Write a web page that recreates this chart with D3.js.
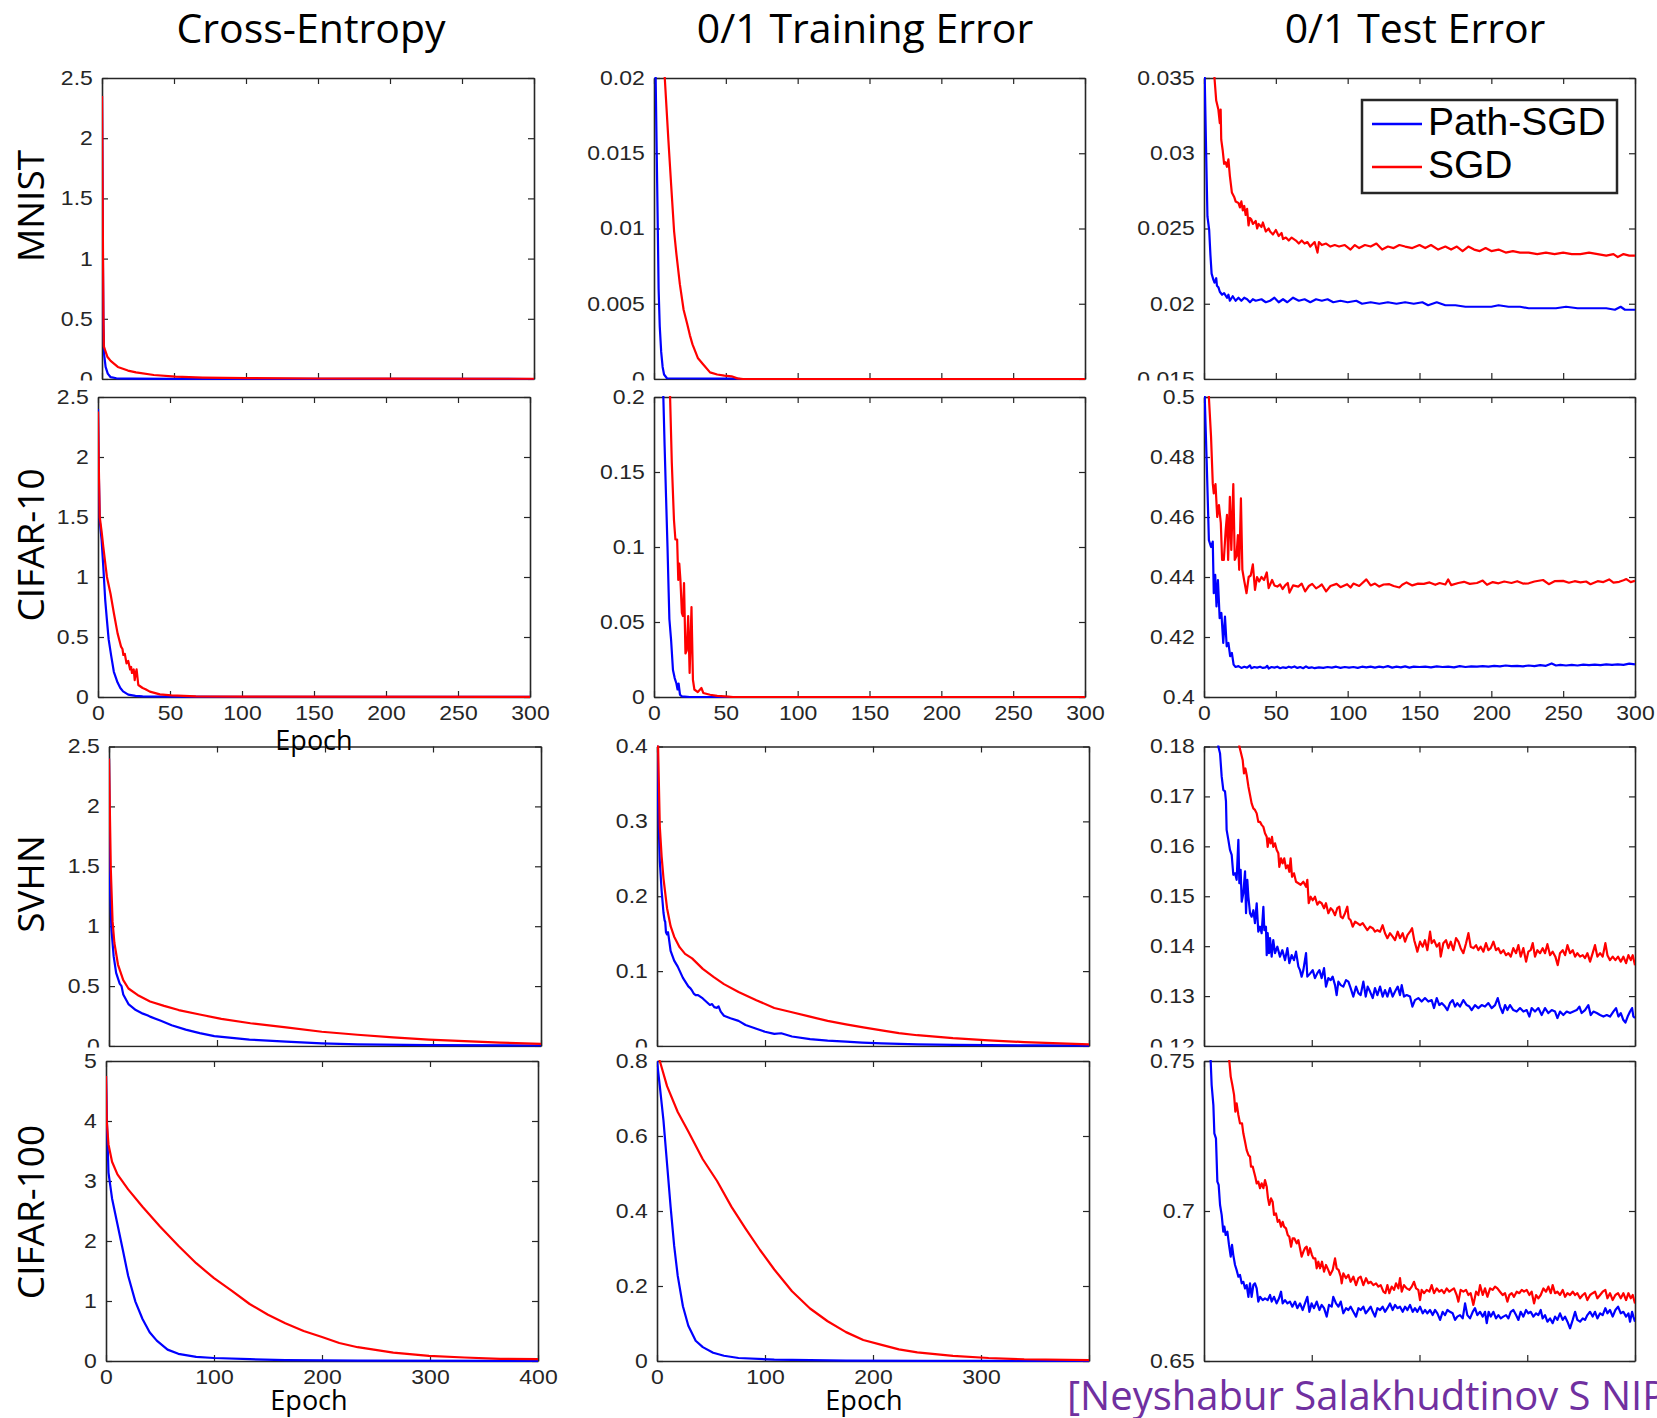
<!DOCTYPE html>
<html>
<head>
<meta charset="utf-8">
<script src="https://cdn.jsdelivr.net/npm/d3@7"></script>
<style>
body { margin: 0; background: #fff; }
svg { display: block; }
</style>
</head>
<body>
<svg id="chart" width="1657" height="1418"></svg>
<script>
// labels
const colTitles = ["Cross-Entropy", "0/1 Training Error", "0/1 Test Error"];
const rowNames = ["MNIST", "CIFAR-10", "SVHN", "CIFAR-100"];
const seriesNames = ["Path-SGD", "SGD"];
const citation = "[Neyshabur Salakhudtinov S NIPS'15]";

// tick values
const ticks300 = [0, 50, 100, 150, 200, 250, 300];
const ticks400 = [0, 100, 200, 300, 400];
const ceTicks = [0, 0.5, 1, 1.5, 2, 2.5];
const ce100Ticks = [0, 1, 2, 3, 4, 5];
const mnistTrainTicks = [0, 0.005, 0.01, 0.015, 0.02];
const mnistTestTicks = [0.015, 0.02, 0.025, 0.03, 0.035];
const cifar10TrainTicks = [0, 0.05, 0.1, 0.15, 0.2];
const cifar10TestTicks = [0.4, 0.42, 0.44, 0.46, 0.48, 0.5];
const svhnTrainTicks = [0, 0.1, 0.2, 0.3, 0.4];
const svhnTestTicks = [0.12, 0.13, 0.14, 0.15, 0.16, 0.17, 0.18];
const cifar100TrainTicks = [0, 0.2, 0.4, 0.6, 0.8];
const cifar100TestTicks = [0.65, 0.7, 0.75];

// [epoch, value]
const mnistCePath = [[0,2.35],[0.5,1.2],[1,0.45],[1.5,0.2],[2.5,0.1],[4,0.045],[6,0.015],[10,0.006],[20,0.003],[50,0.001],[100,0.0005],[300,0.0002]];
const mnistCeSgd = [[0,2.35],[0.5,1.4],[1,0.5],[1.3,0.27],[3.7,0.185],[6,0.15],[11,0.1],[18,0.07],[23.6,0.055],[36,0.033],[51,0.019],[70,0.012],[100,0.007],[150,0.004],[200,0.003],[300,0.002]];

const mnistTrainPath = [[0,0.1],[1,0.021],[2.2,0.013],[2.7,0.0096],[3.2,0.006],[4,0.0035],[5,0.0018],[6,0.0008],[7,0.0003],[9,0.00005],[58,0.00002],[60,0],[300,0]];
const mnistTrainSgd = [[0,0.1],[5,0.04],[7.5,0.02],[10,0.0159],[12,0.0128],[14,0.0098],[15.6,0.0083],[18,0.0063],[20.6,0.0046],[23,0.0037],[25,0.0029],[26.8,0.0023],[30.5,0.0014],[34,0.001],[39,0.00044],[44,0.0003],[49,0.00022],[54,0.00018],[58,0.00004],[62,0],[300,0]];

const mnistTestPath = [[0,0.05],[0.5,0.035],[1.5,0.03],[2.4,0.0258],[3.6,0.0249],[4.5,0.0232],[5.3,0.022],[6.5,0.0216],[7.3,0.0214],[8.5,0.0217],[9,0.0212],[10,0.0211],[11,0.0208],[12.6,0.0206],[14,0.0207],[16,0.0204],[17,0.0206],[18,0.0202],[20,0.0205],[22,0.0202],[24,0.0204],[26,0.0202],[28,0.0204],[30,0.0203],[32,0.0201],[34,0.0203],[36,0.0202],[40,0.0203],[43,0.0201],[46,0.0202],[49,0.0204],[52,0.0201],[55,0.0203],[58,0.0201],[62,0.0204],[66,0.0202],[70,0.0203],[74,0.0201],[78,0.0203],[82,0.0202],[86,0.0203],[90,0.0201],[95,0.0202],[100,0.0201],[106,0.0202],[110,0.02],[116,0.0201],[122,0.02],[128,0.0201],[134,0.02],[140,0.0201],[146,0.02],[152,0.0201],[156,0.0199],[162,0.0201],[168,0.0199],[175,0.0199],[182,0.0198],[190,0.0198],[200,0.0198],[205,0.0199],[212,0.0198],[220,0.0198],[226,0.0197],[236,0.0197],[245,0.0197],[252,0.0198],[260,0.0197],[270,0.0197],[280,0.0197],[286,0.0196],[290,0.0198],[293,0.0196],[300,0.0196]];
const mnistTestSgd = [[5,0.05],[7.3,0.035],[8.5,0.0335],[10,0.0329],[11,0.032],[11.6,0.0329],[12,0.0309],[13,0.0302],[14,0.0293],[15,0.0294],[16,0.0291],[17,0.0296],[18,0.0285],[19.4,0.0274],[21,0.0271],[22,0.0268],[24,0.0267],[25,0.0264],[26,0.0268],[27,0.0262],[28,0.0265],[29,0.0259],[30,0.0263],[31,0.0252],[32,0.0257],[33,0.0256],[34,0.0253],[36,0.0255],[37,0.025],[38,0.0253],[40,0.0251],[41,0.0254],[43,0.0248],[45,0.025],[46,0.0248],[48,0.0246],[50,0.0249],[52,0.0245],[54,0.0247],[55,0.0243],[57,0.0244],[59,0.0242],[61,0.0244],[64,0.0242],[66,0.024],[68,0.0242],[70,0.024],[72,0.0241],[74,0.0238],[77,0.0241],[79,0.0234],[80,0.0241],[82,0.0239],[85,0.024],[88,0.0238],[91,0.0239],[94,0.0238],[98,0.0239],[102,0.0236],[105,0.0239],[108,0.0237],[112,0.0239],[116,0.0238],[120,0.024],[124,0.0236],[128,0.0238],[132,0.0237],[136,0.0239],[140,0.0238],[145,0.0237],[150,0.0239],[154,0.0237],[158,0.0239],[163,0.0236],[168,0.0238],[172,0.0236],[176,0.0238],[180,0.0235],[184,0.0238],[188,0.0236],[192,0.0235],[196,0.0237],[200,0.0235],[205,0.0236],[210,0.0234],[215,0.0235],[220,0.0234],[226,0.0234],[232,0.0233],[238,0.0234],[244,0.0233],[250,0.0234],[256,0.0233],[262,0.0233],[268,0.0234],[274,0.0233],[280,0.0232],[285,0.0233],[288,0.0231],[292,0.0233],[296,0.0232],[300,0.0232]];

const cifar10CePath = [[0,2.4],[0.5,1.9],[1.2,1.47],[2.5,1.31],[3.7,1.08],[5,0.81],[6.2,0.64],[7.4,0.48],[9.2,0.34],[11,0.21],[13.6,0.12],[15.5,0.075],[17.4,0.047],[21,0.02],[26,0.01],[31,0.006],[50,0.003],[100,0.001],[300,0.0005]];
const cifar10CeSgd = [[0,2.38],[0.6,1.9],[1.2,1.5],[2.5,1.38],[3.7,1.25],[6.2,1],[8.7,0.86],[11,0.7],[13.6,0.53],[16,0.42],[17,0.4],[17.6,0.35],[18.6,0.36],[19.8,0.28],[21,0.3],[22.3,0.23],[23,0.25],[23.6,0.2],[24.8,0.23],[25.5,0.14],[26.2,0.2],[26.8,0.23],[28,0.1],[31,0.075],[33,0.065],[36,0.045],[43,0.022],[51,0.014],[68,0.006],[100,0.003],[300,0.001]];

const cifar10TrainPath = [[0,0.5],[5,0.25],[6.5,0.2],[7.4,0.167],[8.4,0.133],[9.4,0.1],[10.2,0.07],[10.7,0.052],[11.9,0.038],[13.2,0.018],[14.4,0.0126],[15.6,0.009],[16.4,0.005],[17.1,0.009],[18.1,0.0015],[19.4,0.0004],[25,0],[300,0]];
const cifar10TrainSgd = [[5,0.5],[10,0.25],[11.2,0.2],[12.4,0.156],[13.9,0.118],[14.9,0.105],[16.1,0.105],[16.9,0.078],[17.6,0.089],[18.4,0.078],[19.4,0.056],[20.1,0.054],[20.9,0.076],[21.9,0.029],[22.8,0.031],[23.8,0.054],[24.8,0.016],[26.1,0.06],[27.1,0.0115],[28.1,0.005],[30.5,0.0033],[33,0.006],[34.3,0.0027],[39,0.0015],[44,0.0008],[51.7,0.0002],[55,0],[300,0]];

const cifar10TestPath = [[0,0.53],[0.5,0.5],[1.9,0.478],[3.4,0.4523],[4.9,0.45],[6.1,0.4518],[6.8,0.4346],[7.8,0.4407],[8.7,0.4302],[9.7,0.439],[10.9,0.4263],[12.1,0.428],[13.4,0.418],[14.6,0.4268],[15.8,0.4169],[17,0.418],[18.2,0.4136],[19.4,0.4147],[20.6,0.4108],[22,0.41],[24,0.4103],[26,0.4097],[28,0.4101],[30,0.4098],[32,0.4105],[33,0.4096],[35,0.41],[37,0.4098],[39,0.4101],[41,0.4097],[43,0.4099],[44,0.4104],[45,0.4095],[47,0.41],[49,0.4098],[51,0.4101],[53,0.4096],[55,0.4099],[57,0.4097],[59,0.4101],[61,0.4098],[63,0.4102],[65,0.4097],[67,0.41],[69,0.4096],[71,0.4102],[73,0.4097],[75,0.4099],[77,0.4096],[80,0.4099],[83,0.4097],[86,0.41],[89,0.4098],[92,0.4101],[95,0.4097],[98,0.41],[101,0.4098],[104,0.41],[107,0.4097],[110,0.4101],[113,0.4099],[116,0.4101],[119,0.4098],[122,0.4101],[125,0.4099],[128,0.4103],[131,0.4098],[134,0.4101],[137,0.4099],[140,0.4102],[143,0.4098],[146,0.4101],[150,0.41],[154,0.4101],[158,0.4099],[162,0.4102],[166,0.41],[170,0.4101],[174,0.4099],[178,0.4103],[182,0.41],[186,0.4102],[190,0.4101],[194,0.4103],[198,0.4101],[202,0.4104],[206,0.4102],[210,0.4105],[214,0.4103],[218,0.4104],[222,0.4102],[226,0.4105],[230,0.4103],[234,0.4106],[238,0.4104],[242,0.4112],[245,0.4105],[248,0.4107],[252,0.4105],[256,0.4107],[260,0.4105],[264,0.4108],[268,0.4106],[272,0.4108],[276,0.4106],[280,0.4109],[284,0.4107],[288,0.4109],[292,0.4107],[296,0.4111],[300,0.4109]];
const cifar10TestSgd = [[2,0.53],[3.4,0.5],[4.9,0.4867],[6.1,0.4712],[6.8,0.4679],[8,0.471],[9.2,0.46],[10.4,0.464],[11.7,0.458],[12.6,0.4457],[13.8,0.4457],[15.1,0.4557],[16,0.4607],[16.8,0.4457],[18,0.4667],[19,0.449],[20.4,0.471],[21.4,0.4457],[22.6,0.447],[23.6,0.454],[24.5,0.4424],[25.7,0.4662],[26.7,0.4424],[27.9,0.439],[29.6,0.4346],[31.1,0.44],[32.5,0.4405],[34,0.4442],[35.5,0.4357],[36.9,0.44],[38.4,0.4385],[40,0.44],[41.8,0.439],[43.7,0.4415],[45,0.4363],[47.4,0.439],[49,0.4372],[51,0.4368],[53,0.4375],[54.7,0.436],[56.5,0.4372],[58.3,0.438],[59.5,0.4348],[62,0.4372],[65.6,0.4368],[68,0.4378],[70.4,0.4352],[73,0.437],[75.3,0.4377],[78,0.4362],[80,0.4368],[82,0.4375],[85,0.4352],[88,0.437],[92.3,0.4377],[95,0.4366],[99.6,0.4376],[102,0.4365],[104,0.4378],[108,0.437],[113,0.4392],[116,0.4372],[119,0.4378],[122,0.4368],[125,0.4375],[129,0.4376],[132,0.437],[136,0.4365],[138,0.4374],[141,0.4382],[145,0.4372],[149,0.4378],[153,0.4377],[157,0.4382],[161,0.4374],[164,0.438],[168,0.4375],[170,0.4392],[172,0.4373],[177,0.438],[181,0.4384],[185,0.4377],[190,0.438],[194,0.4388],[197,0.4374],[201,0.4383],[205,0.4379],[209,0.4385],[214,0.438],[218,0.4386],[222,0.4378],[226,0.4379],[230,0.4385],[236,0.439],[240,0.4376],[244,0.4386],[250,0.4387],[254,0.4381],[258,0.4386],[262,0.4382],[266,0.4385],[269,0.4376],[274,0.4386],[278,0.4383],[282,0.4392],[285,0.4381],[289,0.4384],[292,0.4389],[294,0.4393],[297,0.4383],[300,0.4387]];

const svhnCePath = [[0,2.4],[1,1.29],[2.3,0.97],[4.3,0.75],[6.6,0.61],[9.9,0.52],[11.6,0.5],[13.2,0.43],[18,0.35],[24.8,0.3],[31.4,0.27],[36,0.255],[38,0.245],[48,0.21],[58,0.173],[71,0.137],[84,0.108],[97.5,0.083],[130,0.054],[164,0.036],[197,0.022],[230,0.014],[296,0.007],[400,0.004]];
const svhnCeSgd = [[0,2.4],[1.7,1.47],[3.3,1.04],[5,0.86],[8.3,0.68],[13.2,0.55],[18,0.48],[26.4,0.426],[38,0.372],[51,0.335],[64.5,0.3],[84,0.263],[104,0.227],[131,0.19],[164,0.155],[197,0.119],[230,0.094],[263,0.072],[296,0.054],[329,0.04],[362,0.029],[400,0.018]];

const svhnTrainPath = [[0,0.45],[0.3,0.4],[1,0.322],[2.6,0.247],[4.3,0.207],[6,0.178],[7,0.168],[7.6,0.166],[8.3,0.152],[9.3,0.149],[10.2,0.152],[10.9,0.145],[12.6,0.127],[15.9,0.114],[19.2,0.106],[24,0.091],[29,0.0797],[31,0.077],[32.5,0.0739],[34,0.07],[35.8,0.068],[38,0.068],[42.4,0.0635],[49,0.0548],[51,0.056],[53,0.052],[55.6,0.051],[57,0.053],[59,0.046],[62,0.0404],[68,0.037],[75.5,0.0335],[82,0.028],[92,0.0231],[100,0.019],[108.6,0.0162],[115,0.017],[125,0.0127],[141.7,0.0092],[158,0.0072],[175,0.0058],[190,0.0046],[208,0.0035],[241,0.0023],[275,0.0016],[307,0.0012],[350,0.0008],[400,0.0006]];
const svhnTrainSgd = [[0,0.5],[1,0.4],[2.6,0.293],[4.3,0.253],[6,0.224],[9.3,0.184],[12.6,0.16],[15.9,0.146],[20.9,0.132],[26,0.123],[32.5,0.117],[42.4,0.103],[52.3,0.0923],[62,0.0826],[75.5,0.0722],[92,0.0612],[108.6,0.0508],[125,0.045],[141.7,0.0392],[158,0.0335],[175,0.0289],[191,0.0248],[208,0.0208],[224,0.0173],[241,0.0144],[274,0.0104],[307,0.0075],[340,0.0052],[373,0.0035],[400,0.0023]];

const svhnTestPath = [[10,0.195],[13.3,0.18],[14.9,0.1786],[16.4,0.174],[17.9,0.1713],[19.5,0.171],[20.4,0.169],[21,0.1633],[22.6,0.1613],[24.1,0.1593],[25.7,0.1583],[27.2,0.1543],[28.8,0.1546],[30.3,0.1533],[31.9,0.1613],[32.8,0.1526],[34,0.1553],[35,0.1489],[36.5,0.1506],[38.1,0.155],[39,0.1466],[40.2,0.1533],[41.2,0.1499],[42.7,0.1466],[44.2,0.1459],[45.8,0.1472],[47.3,0.1446],[48.9,0.1486],[50.4,0.1429],[52,0.1439],[53.5,0.1426],[55.1,0.1479],[56,0.1432],[57.5,0.1439],[58.2,0.1382],[59.1,0.1426],[60.3,0.1386],[61.3,0.1416],[62.8,0.1379],[64.3,0.1412],[65.9,0.1386],[68.1,0.1399],[70.5,0.1379],[72.7,0.1392],[75.2,0.1372],[77.4,0.1396],[79.2,0.1366],[81.4,0.1382],[83.5,0.1372],[85.4,0.1389],[87.6,0.1359],[89.1,0.1352],[90.6,0.1339],[92.2,0.1352],[94.7,0.1386],[95.9,0.1339],[98.4,0.1345],[100.9,0.1352],[103,0.1336],[105.2,0.1346],[107.1,0.1352],[109.2,0.1336],[111.4,0.1356],[113.2,0.1319],[115.4,0.1336],[117.6,0.1332],[119.4,0.1339],[121.6,0.1322],[123.1,0.1302],[124.7,0.1329],[126.9,0.1322],[129.3,0.1319],[131.8,0.1332],[134,0.1329],[136.1,0.1316],[138.6,0.1299],[141.1,0.1319],[143.3,0.1306],[145.4,0.1302],[147.9,0.1329],[150.1,0.1299],[151.9,0.1319],[154.1,0.1309],[156.6,0.1296],[158.7,0.1316],[160.9,0.1302],[163.4,0.1319],[165.8,0.1299],[168,0.1312],[170.2,0.1299],[172.6,0.1316],[175.1,0.1299],[177.3,0.1309],[179.8,0.1319],[181.9,0.1302],[183.5,0.1322],[185.6,0.1299],[188.1,0.1302],[191.2,0.1299],[193.4,0.1279],[195.8,0.1292],[198.9,0.1296],[202,0.1289],[205.1,0.1296],[208.2,0.1289],[211.3,0.1292],[213.5,0.1276],[216,0.1296],[218.4,0.1282],[220.6,0.1286],[223.7,0.1279],[225.9,0.1272],[228.3,0.1286],[230.8,0.1292],[233,0.1279],[235.1,0.1286],[237.6,0.1279],[240.7,0.1292],[243.8,0.1282],[246.3,0.1279],[248.4,0.1272],[251.5,0.1282],[254.6,0.1276],[257.7,0.1282],[260.8,0.1279],[263.9,0.1286],[267,0.1276],[270.1,0.1282],[272.6,0.1296],[274.7,0.1279],[277.2,0.1266],[279.4,0.1282],[281.6,0.1272],[284,0.1282],[287.1,0.1272],[290.2,0.1269],[293.3,0.1276],[296.4,0.1269],[299.5,0.1272],[302,0.1259],[304.1,0.1276],[307.2,0.1269],[310.3,0.1276],[313.4,0.1262],[316.5,0.1276],[319.6,0.1266],[322.7,0.1272],[325.8,0.1269],[328,0.1256],[330.4,0.1269],[333.5,0.1262],[336.6,0.1269],[339.7,0.1266],[342.8,0.1269],[345.9,0.1272],[348.4,0.1279],[350.5,0.1266],[353.6,0.1272],[356.7,0.1282],[358.9,0.1262],[361.4,0.1269],[364.5,0.1266],[367.6,0.1262],[370.7,0.1259],[373.8,0.1262],[376.8,0.1259],[379.9,0.1269],[382.4,0.1276],[384.6,0.1259],[386.8,0.1266],[389.2,0.1252],[391.1,0.1247],[393.2,0.1259],[395.4,0.1269],[397.3,0.1276],[398.5,0.1259],[400,0.1256]];
const svhnTestSgd = [[28,0.19],[32.8,0.18],[34,0.179],[35.9,0.1773],[37.1,0.1746],[38.4,0.1756],[39.6,0.1743],[41.2,0.172],[42.7,0.1703],[44.2,0.1686],[45.8,0.1676],[47.3,0.1673],[48.9,0.1666],[50.4,0.1649],[52,0.1649],[53.5,0.1643],[55.1,0.1639],[56.6,0.1626],[58.2,0.1619],[59.1,0.1599],[60.3,0.1616],[61.9,0.1606],[63.1,0.1619],[64.3,0.1599],[65.9,0.1606],[67.4,0.1593],[69,0.1586],[69.9,0.1559],[71.5,0.1576],[73,0.1566],[74.5,0.1576],[76.1,0.1556],[77.7,0.1562],[79.2,0.1549],[80.4,0.1576],[81.7,0.1539],[83.5,0.1546],[85.4,0.1529],[87.6,0.1526],[89.7,0.1523],[92.2,0.1529],[94.7,0.1519],[95.9,0.1533],[97.2,0.1486],[99,0.1499],[100.9,0.1492],[103,0.1499],[105.2,0.1483],[107.1,0.1489],[109.2,0.1486],[111.4,0.1476],[113.2,0.1486],[115.4,0.1466],[117.6,0.1476],[119.4,0.1472],[121.6,0.1462],[123.7,0.1476],[125.6,0.1479],[126.9,0.1459],[128.7,0.1456],[130.9,0.1466],[133,0.1479],[134.3,0.1456],[136.1,0.1452],[138,0.1439],[140.2,0.1449],[142.3,0.1446],[144.8,0.1442],[147.3,0.1446],[149.4,0.1439],[151.6,0.1432],[154.1,0.1439],[156.6,0.1436],[158.7,0.1429],[160.9,0.1432],[163.4,0.1429],[165.8,0.1442],[168,0.1426],[170.2,0.1416],[172.6,0.1426],[175.1,0.1419],[177.3,0.1412],[179.8,0.1429],[181.9,0.1416],[184.4,0.1426],[186.6,0.1409],[188.8,0.1422],[191.2,0.1429],[193.1,0.1436],[195.1,0.1412],[196.8,0.1399],[198,0.1389],[200.5,0.1409],[203,0.1399],[205.1,0.1412],[207.3,0.1392],[209.8,0.1429],[211.3,0.1406],[213.5,0.1412],[216,0.1399],[218.4,0.1406],[219.7,0.1379],[222.1,0.1406],[224.6,0.1412],[226.8,0.1396],[229,0.1409],[231.4,0.1392],[233.9,0.1416],[236.1,0.1409],[238.2,0.1396],[240.7,0.1386],[243.2,0.1406],[245.4,0.1426],[247.5,0.1399],[250,0.1396],[252.5,0.1402],[254.6,0.1392],[256.8,0.1399],[259.3,0.1389],[261.7,0.1406],[263.9,0.1392],[266.1,0.1396],[268.6,0.1409],[271,0.1392],[273.2,0.1396],[275.4,0.1386],[277.9,0.1392],[280.3,0.1382],[282.5,0.1386],[284.7,0.1379],[287.1,0.1396],[289.6,0.1386],[291.8,0.1402],[293.9,0.1379],[296.4,0.1396],[298.9,0.1369],[301,0.1389],[303.2,0.1392],[305.1,0.1406],[307.2,0.1379],[309.4,0.1392],[311.9,0.1386],[314.3,0.1396],[316.5,0.1386],[318.7,0.1404],[321.2,0.1382],[323.6,0.1389],[326.1,0.1379],[328.3,0.1362],[330.4,0.1386],[332.9,0.1392],[335.1,0.1382],[337.3,0.1402],[339.7,0.1386],[342.2,0.1392],[344.4,0.1379],[346.5,0.1386],[349,0.1379],[351.5,0.1382],[353.6,0.1376],[355.8,0.1386],[358.3,0.1369],[360.7,0.1386],[362.9,0.1402],[365.1,0.1379],[367.6,0.1386],[370,0.1379],[372.5,0.1406],[374.4,0.1382],[376.8,0.1372],[379.3,0.1379],[381.8,0.1372],[384.3,0.1379],[386.8,0.1369],[389.2,0.1379],[391.7,0.1366],[393.9,0.1382],[396.1,0.1372],[397.9,0.1382],[400,0.1362]];

const cifar100CePath = [[0,4.75],[0.7,4.08],[2.3,3.14],[5.6,2.71],[10.6,2.28],[15.6,1.85],[20.5,1.42],[27.2,0.99],[33.8,0.7],[40.4,0.48],[47,0.34],[57,0.19],[67,0.12],[83.5,0.07],[100,0.05],[133,0.03],[166,0.015],[233,0.007],[400,0.003]];
const cifar100CeSgd = [[0,4.75],[0.7,4],[2.3,3.61],[5.6,3.32],[10.6,3.11],[20.5,2.86],[33.8,2.57],[50,2.24],[67,1.92],[83.5,1.63],[100,1.38],[116.6,1.17],[133,0.95],[150,0.77],[166,0.63],[183,0.5],[200,0.4],[216,0.3],[233,0.23],[266,0.14],[299,0.086],[332,0.058],[365,0.036],[400,0.03]];

const cifar100TrainPath = [[0,0.8],[2.6,0.733],[6,0.641],[9.3,0.526],[12.6,0.411],[15.9,0.307],[19.2,0.227],[24,0.146],[29,0.094],[35.8,0.054],[42.4,0.037],[52,0.022],[62,0.014],[75.5,0.008],[108.6,0.0035],[175,0.001],[250,0.0003],[400,0]];
const cifar100TrainSgd = [[0,0.85],[2.6,0.8],[9.3,0.733],[19.2,0.664],[29,0.612],[42.4,0.538],[55.6,0.48],[69,0.411],[82,0.353],[95.4,0.296],[108.6,0.244],[125,0.186],[141.7,0.14],[158,0.106],[175,0.077],[191,0.056],[208,0.043],[224,0.031],[241,0.023],[274,0.0138],[307,0.008],[340,0.0046],[400,0.0023]];

const cifar100TestPath = [[4,0.77],[6.2,0.75],[7.1,0.742],[8.7,0.7353],[9.6,0.7259],[11.1,0.7242],[12.4,0.7098],[13.6,0.7087],[14.9,0.702],[16.4,0.6987],[17.9,0.6931],[18.9,0.6948],[20.1,0.692],[21.7,0.6931],[23.2,0.6887],[24.8,0.6848],[26,0.6887],[27.2,0.6853],[28.8,0.682],[30.3,0.6803],[31.9,0.6781],[33.4,0.6787],[35,0.6759],[36.5,0.6764],[38.1,0.6742],[39.6,0.6753],[41.2,0.6714],[42.7,0.6759],[44.2,0.6714],[45.8,0.6753],[47.3,0.6759],[48.9,0.6742],[50.4,0.6698],[52,0.6714],[54.5,0.6703],[56.6,0.6709],[59.1,0.6703],[61.3,0.672],[62.8,0.6698],[65,0.6714],[67.4,0.6692],[69.6,0.6709],[71.5,0.6731],[73,0.6692],[75.2,0.6703],[77.4,0.6692],[79.8,0.6698],[82,0.6681],[84.5,0.6698],[86.6,0.6676],[89.1,0.6692],[91.6,0.667],[93.7,0.6692],[95.9,0.6714],[97.8,0.6664],[99.9,0.6692],[102.1,0.6676],[104.6,0.6698],[107.1,0.667],[109.2,0.6687],[111.4,0.6676],[113.9,0.6648],[116,0.6687],[118.5,0.6681],[120,0.6714],[122.5,0.6692],[124.7,0.6681],[126.9,0.6698],[129.3,0.6659],[131.8,0.6676],[134,0.667],[136.1,0.6681],[138.6,0.6664],[141.1,0.6648],[143.3,0.6676],[145.4,0.667],[147.9,0.6681],[150.1,0.6659],[152.5,0.667],[154.7,0.6681],[156.6,0.6664],[158.7,0.6648],[160.9,0.6676],[163.4,0.667],[165.8,0.6681],[168,0.6664],[170.2,0.6676],[172.6,0.6692],[175.1,0.667],[177.3,0.6687],[179.5,0.6676],[181.9,0.6681],[184.4,0.6664],[186.6,0.6681],[188.8,0.667],[191.2,0.6687],[193.7,0.6664],[195.8,0.6676],[198,0.6664],[200.5,0.6681],[203,0.6659],[205.1,0.667],[207.3,0.6659],[209.8,0.667],[212.2,0.6653],[214.4,0.667],[216.6,0.6659],[219.1,0.6637],[221.5,0.6664],[223.7,0.6653],[225.9,0.667],[228.3,0.6664],[230.8,0.6659],[233,0.6637],[235.1,0.6648],[237.6,0.6653],[240.1,0.6642],[242.3,0.6692],[244.4,0.6653],[246.9,0.6642],[249.4,0.6664],[251.5,0.6676],[253.7,0.6653],[256.2,0.6664],[258.7,0.6648],[260.8,0.6664],[262.4,0.6626],[264.2,0.6664],[266.1,0.6648],[268.6,0.6664],[271,0.6642],[273.2,0.6653],[275.4,0.6642],[277.8,0.6648],[280.3,0.6653],[282.5,0.6642],[284.7,0.6664],[287.1,0.667],[289.6,0.6653],[291.8,0.6637],[293.9,0.6664],[296.4,0.6648],[298.9,0.667],[301,0.6659],[303.2,0.6664],[305.7,0.6648],[308.2,0.6659],[310.3,0.6653],[312.5,0.667],[314.3,0.6642],[316.5,0.6653],[318.7,0.6631],[321.2,0.6642],[323.6,0.6626],[325.8,0.6648],[328,0.6637],[330.4,0.6659],[332.9,0.6637],[335.1,0.6648],[337.3,0.6631],[339.7,0.6609],[342.2,0.6637],[344.4,0.6664],[346.5,0.6637],[349,0.6631],[351.5,0.6642],[353.6,0.6637],[355.8,0.6653],[358.3,0.6664],[360.7,0.6648],[362.9,0.6664],[365.1,0.6642],[367.6,0.6659],[370,0.6653],[372.5,0.6676],[374.4,0.6659],[376.8,0.667],[379.3,0.6648],[381.8,0.667],[384.3,0.6681],[386.8,0.6659],[389.2,0.6664],[391.7,0.6648],[393.9,0.6659],[395.4,0.6631],[397.3,0.6664],[398.5,0.6648],[400,0.6631]];
const cifar100TestSgd = [[20,0.77],[23.5,0.75],[24.8,0.7448],[26.3,0.742],[27.9,0.7387],[29.1,0.7331],[30.3,0.7359],[31.9,0.732],[33.4,0.7292],[35.3,0.7292],[36.5,0.7259],[38.1,0.7231],[39.6,0.7203],[41.2,0.7187],[42.7,0.7181],[43.6,0.7148],[45.2,0.7148],[46.4,0.7131],[47.6,0.7114],[48.9,0.7092],[50.4,0.7098],[52,0.7076],[53.5,0.7092],[55.1,0.7076],[56.6,0.7103],[58.2,0.7081],[59.4,0.7042],[60.6,0.702],[62.2,0.7042],[63.7,0.7031],[65,0.6987],[66.8,0.6992],[68.4,0.6964],[69.9,0.697],[71.5,0.6948],[73,0.6964],[74.3,0.6948],[76.1,0.6942],[77.7,0.692],[79.2,0.6914],[80.8,0.6881],[82.3,0.6909],[83.8,0.6909],[86,0.6892],[87.6,0.6903],[89.1,0.6876],[90.6,0.6848],[92.2,0.6864],[93.7,0.6876],[95.3,0.6881],[96.8,0.6853],[98.4,0.6876],[100.2,0.6853],[101.5,0.6842],[103.3,0.6842],[104.6,0.6809],[106.1,0.6831],[107.7,0.6809],[109.5,0.6831],[111.4,0.6798],[113.2,0.682],[115.4,0.6803],[117,0.6787],[119.4,0.6803],[121.6,0.6842],[123.1,0.6809],[125,0.6803],[126.9,0.6781],[127.8,0.6759],[129.3,0.6792],[131.8,0.6776],[134,0.6787],[136.1,0.6764],[138.6,0.6781],[141.1,0.6753],[143.3,0.6776],[145.4,0.6781],[147.9,0.6753],[150.4,0.6776],[152.5,0.6759],[154.7,0.6764],[157.2,0.6753],[159.7,0.6759],[161.8,0.6748],[164,0.6753],[166.5,0.6731],[168.3,0.6726],[170.2,0.6753],[172,0.6726],[174.2,0.6748],[176.4,0.6737],[178.2,0.6759],[180.4,0.6742],[181.9,0.6776],[183.5,0.6731],[185.6,0.6753],[188.1,0.6742],[190.6,0.6737],[192.8,0.6748],[194.9,0.6764],[196.8,0.6742],[198.9,0.6737],[200.5,0.6703],[202,0.6737],[204.2,0.6726],[206.7,0.6737],[209.2,0.6731],[211.3,0.6753],[213.5,0.6726],[216,0.6742],[218.4,0.6731],[220.6,0.6737],[222.8,0.6726],[225.2,0.6742],[227.7,0.6731],[229.9,0.6737],[232,0.6742],[234.5,0.672],[236.1,0.6698],[238.2,0.6737],[240.7,0.6731],[243.2,0.6737],[245.4,0.672],[247.5,0.6726],[250,0.6687],[252.5,0.6731],[254.6,0.672],[256.2,0.6753],[258.7,0.672],[260.8,0.6742],[263,0.6714],[265.5,0.6742],[267.9,0.6737],[270.1,0.6748],[272.3,0.6742],[274.7,0.6731],[277.2,0.672],[279.4,0.6726],[281.6,0.6698],[283.4,0.672],[285.6,0.6726],[287.7,0.6714],[290.2,0.6731],[292.7,0.6726],[294.9,0.6737],[297,0.6731],[299.5,0.6737],[302,0.672],[304.1,0.6731],[306.3,0.6692],[308.2,0.672],[310.3,0.6709],[312.5,0.672],[315,0.6742],[317.4,0.6731],[319.6,0.6748],[321.8,0.6726],[323.6,0.6753],[325.8,0.6726],[328,0.6731],[330.4,0.672],[332.9,0.6737],[335.1,0.6714],[337.3,0.6726],[339.7,0.672],[342.2,0.6731],[344.4,0.672],[346.5,0.6726],[349,0.6709],[351.5,0.672],[353.6,0.6726],[355.8,0.6703],[358.3,0.672],[360.7,0.6726],[362.9,0.6731],[365.1,0.6709],[367.6,0.672],[370,0.6731],[372.5,0.6737],[374.4,0.6709],[376.8,0.6726],[379.3,0.6703],[381.8,0.672],[384.3,0.6726],[386.8,0.6709],[389.2,0.6726],[391.7,0.6703],[393.9,0.6726],[396.1,0.6709],[397.9,0.672],[400,0.6692]];

// panel boxes in page pixels
const rowY = [[78, 379], [397, 697], [746.5, 1046], [1061, 1361]];
const colX = [
  [[102, 534], [654, 1085], [1204, 1635]],
  [[98, 530], [654, 1085], [1204, 1635]],
  [[109, 541], [657, 1089], [1204, 1635]],
  [[106, 538], [657, 1089], [1204, 1635]]
];

const panels = [
  { row: 0, col: 0, xTicks: ticks300, yTicks: ceTicks, xLabels: [], series: [mnistCePath, mnistCeSgd] },
  { row: 0, col: 1, xTicks: ticks300, yTicks: mnistTrainTicks, xLabels: [], series: [mnistTrainPath, mnistTrainSgd] },
  { row: 0, col: 2, xTicks: ticks300, yTicks: mnistTestTicks, xLabels: [], series: [mnistTestPath, mnistTestSgd], legend: true },
  { row: 1, col: 0, xTicks: ticks300, yTicks: ceTicks, xLabels: ticks300, series: [cifar10CePath, cifar10CeSgd] },
  { row: 1, col: 1, xTicks: ticks300, yTicks: cifar10TrainTicks, xLabels: ticks300, series: [cifar10TrainPath, cifar10TrainSgd] },
  { row: 1, col: 2, xTicks: ticks300, yTicks: cifar10TestTicks, xLabels: ticks300, series: [cifar10TestPath, cifar10TestSgd] },
  { row: 2, col: 0, xTicks: ticks400, yTicks: ceTicks, xLabels: [], series: [svhnCePath, svhnCeSgd] },
  { row: 2, col: 1, xTicks: ticks400, yTicks: svhnTrainTicks, xLabels: [], series: [svhnTrainPath, svhnTrainSgd] },
  { row: 2, col: 2, xTicks: ticks400, yTicks: svhnTestTicks, xLabels: [], series: [svhnTestPath, svhnTestSgd] },
  { row: 3, col: 0, xTicks: ticks400, yTicks: ce100Ticks, xLabels: ticks400, series: [cifar100CePath, cifar100CeSgd] },
  { row: 3, col: 1, xTicks: ticks400, yTicks: cifar100TrainTicks, xLabels: [0, 100, 200, 300], series: [cifar100TrainPath, cifar100TrainSgd] },
  { row: 3, col: 2, xTicks: ticks400, yTicks: cifar100TestTicks, xLabels: [], series: [cifar100TestPath, cifar100TestSgd] }
];

const colors = ["#0000ff", "#ff0000"];
const axisColor = "#262626";
const tickFont = "'Liberation Sans', Arial, sans-serif";
const textFont = "'Open Sans', 'Noto Sans', sans-serif";
const tickFmt = d => String(+d.toFixed(4));

const svg = d3.select("#chart");
const defs = svg.append("defs");

// white bands where a later row of plots sits over the row above
const covers = { 1: 380.5, 3: 1047.5 };

panels.forEach((p, i) => {
  if (p.col === 0 && covers[p.row] !== undefined) {
    svg.append("rect")
      .attr("x", 0).attr("y", covers[p.row])
      .attr("width", 1657).attr("height", rowY[p.row][0] - covers[p.row] - 2)
      .attr("fill", "#fff");
  }

  const [x0, x1] = colX[p.row][p.col];
  const [y0, y1] = rowY[p.row];
  const w = x1 - x0, h = y1 - y0;

  const x = d3.scaleLinear().domain([p.xTicks[0], p.xTicks[p.xTicks.length - 1]]).range([0, w]);
  const y = d3.scaleLinear().domain([p.yTicks[0], p.yTicks[p.yTicks.length - 1]]).range([h, 0]);

  const g = svg.append("g").attr("transform", `translate(${x0},${y0})`);

  defs.append("clipPath").attr("id", "clip" + i)
    .append("rect").attr("x", 0).attr("y", -1).attr("width", w).attr("height", h + 2);

  const xLab = d => p.xLabels.includes(d) ? tickFmt(d) : "";

  const styleAxis = sel => {
    sel.attr("color", axisColor)
      .attr("font-family", tickFont)
      .attr("font-size", 20);
    sel.select(".domain").attr("stroke-width", 1.6);
    sel.selectAll(".tick line").attr("stroke-width", 1.2);
    sel.selectAll(".tick text").attr("transform", "scale(1.15,1)");
  };

  g.append("g").attr("transform", `translate(0,${h})`)
    .call(d3.axisBottom(x).tickValues(p.xTicks).tickSizeInner(-6).tickSizeOuter(0).tickPadding(9).tickFormat(xLab))
    .call(styleAxis);
  g.append("g")
    .call(d3.axisTop(x).tickValues(p.xTicks).tickSizeInner(-6).tickSizeOuter(0).tickFormat(""))
    .call(styleAxis);
  g.append("g")
    .call(d3.axisLeft(y).tickValues(p.yTicks).tickSizeInner(-6).tickSizeOuter(0).tickPadding(8).tickFormat(tickFmt))
    .call(styleAxis);
  g.append("g").attr("transform", `translate(${w},0)`)
    .call(d3.axisRight(y).tickValues(p.yTicks).tickSizeInner(-6).tickSizeOuter(0).tickFormat(""))
    .call(styleAxis);

  const line = d3.line().x(d => x(d[0])).y(d => y(d[1]));
  p.series.forEach((s, k) => {
    g.append("path")
      .datum(s)
      .attr("clip-path", `url(#clip${i})`)
      .attr("fill", "none")
      .attr("stroke", colors[k])
      .attr("stroke-width", 2.2)
      .attr("stroke-linejoin", "round")
      .attr("d", line);
  });

  if (p.legend) {
    const lg = svg.append("g").attr("transform", "translate(1362,100)");
    lg.append("rect").attr("width", 255).attr("height", 93)
      .attr("fill", "#fff").attr("stroke", axisColor).attr("stroke-width", 2.5);
    seriesNames.forEach((name, k) => {
      const ly = 24 + k * 43;
      lg.append("line").attr("x1", 10).attr("x2", 60).attr("y1", ly).attr("y2", ly)
        .attr("stroke", colors[k]).attr("stroke-width", 2.5);
      lg.append("text").attr("x", 66).attr("y", ly + 11)
        .attr("font-family", tickFont).attr("font-size", 39).attr("fill", "#000")
        .text(name);
    });
  }
});

// column titles
const titleX = [311, 865, 1415];
colTitles.forEach((t, c) => {
  svg.append("text").attr("x", titleX[c]).attr("y", 43)
    .attr("text-anchor", "middle").attr("font-family", textFont).attr("font-size", 41)
    .attr("fill", "#000").text(t);
});

// row names
const rowLabelY = [206, 545, 884, 1212];
rowNames.forEach((t, r) => {
  svg.append("text").attr("transform", `translate(44,${rowLabelY[r]}) rotate(-90)`)
    .attr("text-anchor", "middle").attr("font-family", textFont).attr("font-size", 37)
    .attr("fill", "#000").text(t);
});

// epoch labels
[[314, 750], [309, 1410], [864, 1410]].forEach(([ex, ey]) => {
  svg.append("text").attr("x", ex).attr("y", ey)
    .attr("text-anchor", "middle").attr("font-family", textFont).attr("font-size", 27)
    .attr("fill", "#000").text("Epoch");
});

svg.append("text").attr("x", 1067).attr("y", 1410)
  .attr("font-family", textFont).attr("font-size", 40)
  .attr("fill", "#7030a0").text(citation);
</script>
</body>
</html>
